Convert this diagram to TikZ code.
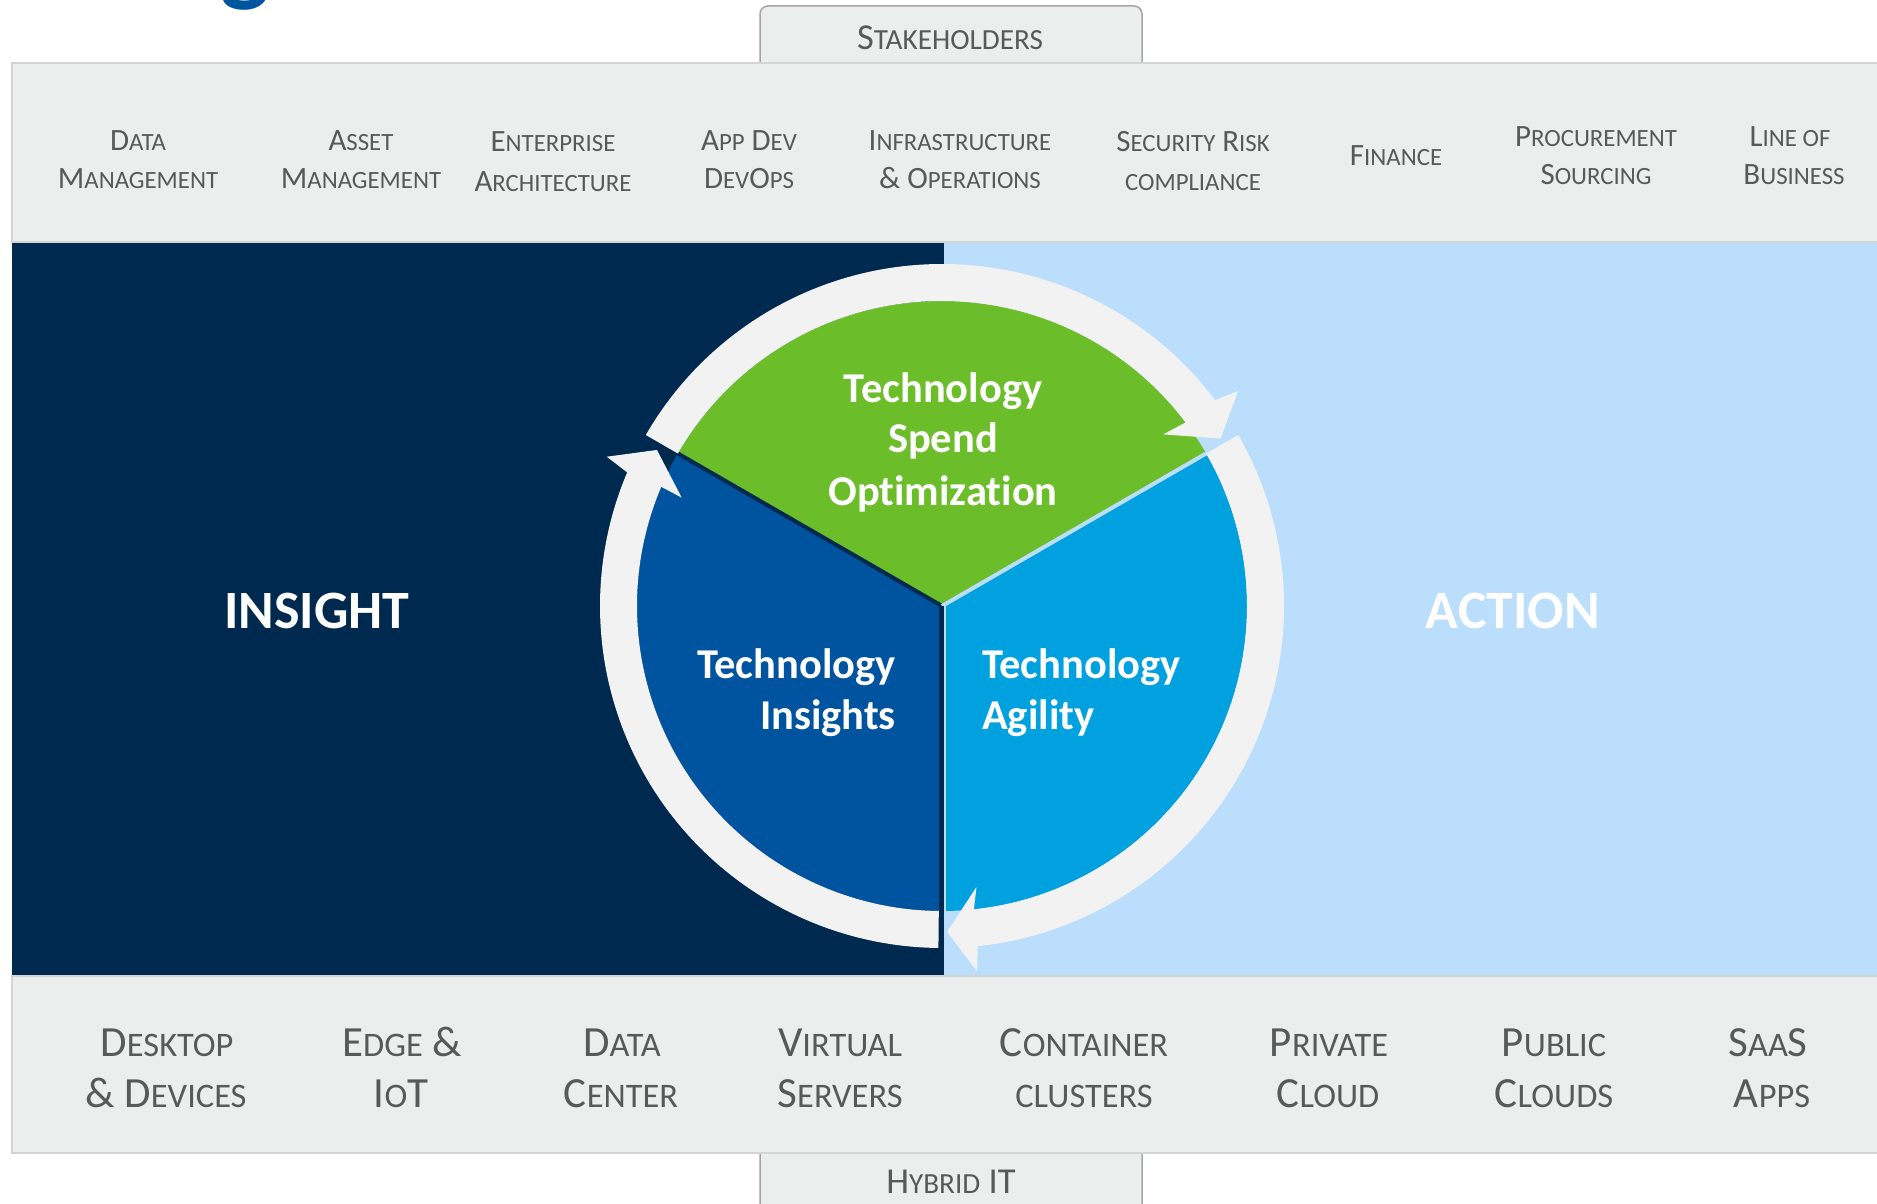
\documentclass[tikz,border=0pt]{standalone}
\usepackage{fontspec}
\setmainfont{Carlito}[Ligatures=NoCommon]

\definecolor{navybg}{HTML}{00294F}
\definecolor{lightbg}{HTML}{BBDEFD}
\definecolor{spendc}{HTML}{6BBD2A}
\definecolor{insightc}{HTML}{00539F}
\definecolor{agilityc}{HTML}{00A1DE}
\definecolor{ringc}{HTML}{F2F2F2}
\definecolor{bandc}{HTML}{ECEDED}
\definecolor{bandline}{HTML}{D3D5D5}
\definecolor{tabline}{HTML}{A5A5A5}
\definecolor{labelc}{HTML}{595959}
\definecolor{titlec}{HTML}{0054A0}

% small capitals by hand
\makeatletter
\newcommand{\smc}[1]{{\fontsize{0.8\dimexpr\f@size pt\relax}{0pt}\selectfont\MakeUppercase{#1}}}
\makeatother

\tikzset{
  toplbl/.style={anchor=base, inner sep=0pt, text=labelc, font=\fontsize{31}{38}\selectfont},
  botlbl/.style={anchor=base, inner sep=0pt, text=labelc, font=\fontsize{43}{51}\selectfont},
  tablbl/.style={anchor=base, inner sep=0pt, text=labelc, font=\fontsize{36.5}{44}\selectfont},
  wheel/.style={anchor=base, inner sep=0pt, text=white, font=\bfseries\fontsize{42.5}{51}\selectfont},
  side/.style={anchor=base, inner sep=0pt, text=white, font=\bfseries\fontsize{54}{64}\selectfont},
  tab/.style={draw=tabline, line width=1.5pt, fill=bandc, rounded corners=8pt},
  band/.style={fill=bandc, draw=bandline, line width=2pt}
}

\begin{document}
\begin{tikzpicture}[x=1pt, y=-1pt]
\useasboundingbox (0,0) rectangle (1877,1204);
\clip (0,0) rectangle (1877,1204);

\node [anchor=south, inner sep=0pt, text=titlec, font=\bfseries\fontsize{105}{110}\selectfont] (g0) at (245,10) {g};

% tabs and bands
\draw [tab] (760,64) -- (760,6) -- (1142,6) -- (1142,64);
\draw [tab] (760,1152) -- (760,1212) -- (1142,1212) -- (1142,1152);
\draw [band] (12,63) rectangle (1890,242);
\draw [band] (12,976) rectangle (1890,1153);

% insight / action panels
\fill [navybg] (12,243) rectangle (944,975);
\fill [lightbg] (944,243) rectangle (1877,975);

% wheel
\coordinate (c) at (942,606);
\fill [spendc] (c) -- ([shift={(30:305pt)}]c) arc[start angle=30, end angle=150, radius=305pt] -- cycle;
\fill [insightc] (c) -- ([shift={(150:305pt)}]c) arc[start angle=150, end angle=270, radius=305pt] -- cycle;
\fill [agilityc] (c) -- ([shift={(270:305pt)}]c) arc[start angle=270, end angle=390, radius=305pt] -- cycle;

\draw [navybg, line width=4pt] (c) -- ([shift={(150:320pt)}]c);
\draw [lightbg, line width=4pt] (c) -- ([shift={(30:320pt)}]c);
\fill [navybg] (939,606) rectangle (944,920);
\fill [lightbg] (944,606) rectangle (946,920);

% ring arrows
\fill [ringc] ([shift={(150:342pt)}]c) arc[start angle=150, end angle=37, radius=342pt]
  -- ([shift={(36:366pt)}]c) -- ([shift={(31:325pt)}]c) -- ([shift={(37.8:280pt)}]c)
  -- ([shift={(37:305pt)}]c) arc[start angle=37, end angle=150, radius=305pt] -- cycle;
\fill [ringc] ([shift={(30:342pt)}]c) arc[start angle=30, end angle=-84, radius=342pt]
  -- ([shift={(-84.5:367pt)}]c) -- ([shift={(-89.1:326pt)}]c) -- ([shift={(-83:283pt)}]c)
  -- ([shift={(-84:305pt)}]c) arc[start angle=-84, end angle=30, radius=305pt] -- cycle;
\fill [ringc] ([shift={(269.4:342pt)}]c) arc[start angle=269.4, end angle=157, radius=342pt]
  -- ([shift={(156:367pt)}]c) -- ([shift={(151.3:325pt)}]c) -- ([shift={(157.4:282pt)}]c)
  -- ([shift={(157:305pt)}]c) arc[start angle=157, end angle=269.4, radius=305pt] -- cycle;

% wheel texts
\node [wheel] (w0) at (943,402) {Technology};
\node [wheel] (w1) at (943,452) {Spend};
\node [wheel] (w2) at (943,505) {Optimization};
\node [wheel, anchor=base east] (w3) at (896,678) {Technology};
\node [wheel, anchor=base east] (w4) at (896,729) {Insights};
\node [wheel, anchor=base west] (w5) at (982,678) {Technology};
\node [wheel, anchor=base west] (w6) at (982,729) {Agility};

\node [side] (p0) at (317,628) {INSIGHT};
\node [side] (p1) at (1513,628) {ACTION};

% stakeholders
\node [tablbl] (t0) at (950,50) {S\smc{takeholders}};
\node [toplbl] (s0a) at (138,150) {D\smc{ata}};
\node [toplbl] (s0b) at (138,188) {M\smc{anagement}};
\node [toplbl] (s1a) at (361,150) {A\smc{sset}};
\node [toplbl] (s1b) at (361,188) {M\smc{anagement}};
\node [toplbl] (s2a) at (553,152) {E\smc{nterprise}};
\node [toplbl] (s2b) at (553,191) {A\smc{rchitecture}};
\node [toplbl] (s3a) at (749,150) {A\smc{pp} D\smc{ev}};
\node [toplbl] (s3b) at (749,188) {D\smc{ev}O\smc{ps}};
\node [toplbl] (s4a) at (960,150) {I\smc{nfrastructure}};
\node [toplbl] (s4b) at (960,188) {\& O\smc{perations}};
\node [toplbl] (s5a) at (1193,152) {S\smc{ecurity} R\smc{isk}};
\node [toplbl] (s5b) at (1193,190) {\smc{compliance}};
\node [toplbl] (s6a) at (1396,166) {F\smc{inance}};
\node [toplbl] (s7a) at (1596,147) {P\smc{rocurement}};
\node [toplbl] (s7b) at (1596,185) {S\smc{ourcing}};
\node [toplbl] (s8a) at (1790,147) {L\smc{ine of}};
\node [toplbl] (s8b) at (1794,185) {B\smc{usiness}};

% hybrid it
\node [tablbl] (t1) at (951,1193) {H\smc{ybrid} IT};
\node [botlbl] (h0a) at (167,1056) {D\smc{esktop}};
\node [botlbl] (h0b) at (166,1107) {\& D\smc{evices}};
\node [botlbl] (h1a) at (402,1056) {E\smc{dge} \&};
\node [botlbl] (h1b) at (401,1107) {I\smc{o}T};
\node [botlbl] (h2a) at (622,1056) {D\smc{ata}};
\node [botlbl] (h2b) at (621,1107) {C\smc{enter}};
\node [botlbl] (h3a) at (840,1056) {V\smc{irtual}};
\node [botlbl] (h3b) at (840,1107) {S\smc{ervers}};
\node [botlbl] (h4a) at (1084,1056) {C\smc{ontainer}};
\node [botlbl] (h4b) at (1084,1107) {\smc{clusters}};
\node [botlbl] (h5a) at (1329,1056) {P\smc{rivate}};
\node [botlbl] (h5b) at (1328,1107) {C\smc{loud}};
\node [botlbl] (h6a) at (1554,1056) {P\smc{ublic}};
\node [botlbl] (h6b) at (1554,1107) {C\smc{louds}};
\node [botlbl] (h7a) at (1768,1056) {S\smc{aa}S};
\node [botlbl] (h7b) at (1772,1107) {A\smc{pps}};
\end{tikzpicture}
\end{document}
